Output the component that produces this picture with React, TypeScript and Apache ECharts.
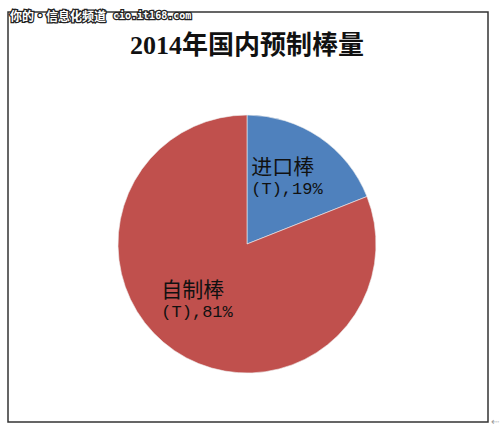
import React, { useEffect, useRef } from "react";
import * as echarts from "echarts";

// 2014 domestic preform supply: imported vs. self-made, in percent
const categories = ["进口棒", "自制棒"];
const units = ["(T)", "(T)"];
const shares = [19, 81];
const sliceColors = ["#4F81BD", "#C0504D"];

const titleText = "2014年国内预制棒量";
const watermarkCn = "你的·信息化频道";
const watermarkEn = "cio.it168.com";

const CJK = "'Noto Sans CJK SC', 'Noto Sans', sans-serif";

export default function App() {
  const ref = useRef<HTMLDivElement>(null);

  useEffect(() => {
    if (!ref.current) return;
    const chart = echarts.init(ref.current, null, { renderer: "svg" });

    const data = categories.map((name, i) => ({
      name,
      value: shares[i],
      itemStyle: { color: sliceColors[i] },
    }));

    // small nudges of the inside labels from their default slot
    const labelShift = [
      { dx: 2, dy: -12 },
      { dx: -12, dy: -1 },
    ];

    chart.setOption({
      animation: false,
      backgroundColor: "#ffffff",
      graphic: [
        {
          type: "rect",
          shape: { x: 8, y: 12, width: 480, height: 410 },
          style: { fill: "none", stroke: "#333333", lineWidth: 1.5 },
          z: 1,
        },
        {
          type: "text",
          x: 247,
          y: 45,
          style: {
            text: titleText,
            fontFamily: "'Liberation Serif', " + CJK,
            fontSize: 26,
            fontWeight: "bold",
            fill: "#111111",
            align: "center",
            verticalAlign: "middle",
          },
          z: 5,
        },
        {
          type: "text",
          x: 10,
          y: 15,
          style: {
            text: watermarkCn,
            fontFamily: CJK,
            fontSize: 12,
            fontWeight: "bold",
            fill: "#ffffff",
            stroke: "#222222",
            lineWidth: 2.5,
            align: "left",
            verticalAlign: "middle",
          },
          z: 10,
        },
        {
          type: "text",
          x: 113,
          y: 15,
          style: {
            text: watermarkEn,
            fontFamily: "'DejaVu Sans Mono', monospace",
            fontSize: 10,
            fontWeight: "bold",
            fill: "#ffffff",
            stroke: "#222222",
            lineWidth: 2.5,
            align: "left",
            verticalAlign: "middle",
          },
          z: 10,
        },
        {
          type: "text",
          x: 491,
          y: 421,
          style: {
            text: "⇠",
            fontSize: 10,
            fill: "#999999",
            align: "left",
            verticalAlign: "middle",
          },
        },
      ],
      series: [
        {
          type: "pie",
          center: [247, 244],
          radius: 129,
          startAngle: 90,
          clockwise: true,
          data,
          itemStyle: { borderColor: "#eeeeee", borderWidth: 0.6 },
          labelLine: { show: false },
          label: {
            show: true,
            position: "inside",
            formatter: (p: any) =>
              `{a|${p.name}}\n{b|${units[p.dataIndex]},${p.value}%}`,
            rich: {
              a: {
                fontFamily: CJK,
                fontSize: 21,
                color: "#111111",
                align: "left",
                lineHeight: 27,
              },
              b: {
                fontFamily: "'Liberation Mono', 'DejaVu Sans Mono', monospace",
                fontSize: 17,
                color: "#111111",
                align: "left",
                lineHeight: 22,
              },
            },
          },
          labelLayout: (params: any) => labelShift[params.dataIndex],
          emphasis: { disabled: true },
        },
      ],
    });

    return () => chart.dispose();
  }, []);

  return (
    <div
      ref={ref}
      style={{
        position: "fixed",
        left: 0,
        top: 0,
        width: 500,
        height: 431,
        background: "#ffffff",
      }}
    />
  );
}
